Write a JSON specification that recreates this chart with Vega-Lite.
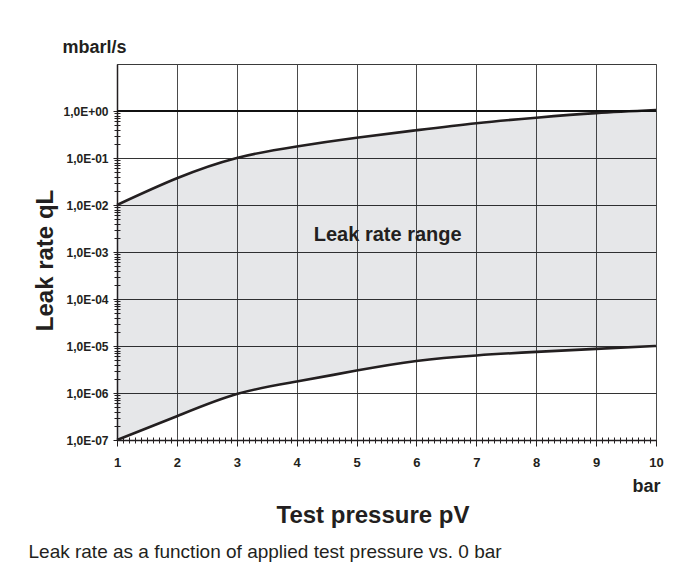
{
  "$schema": "https://vega.github.io/schema/vega-lite/v6.json",
  "width": 539,
  "height": 376,
  "autosize": {"type": "none"},
  "padding": {"left": 117, "top": 64, "right": 32, "bottom": 130},
  "background": "white",
  "config": {
    "view": {"stroke": "#3a3a3a", "strokeWidth": 1},
    "axis": {
      "labelFont": "Liberation Sans",
      "titleFont": "Liberation Sans",
      "labelColor": "#231f20",
      "titleColor": "#231f20",
      "tickColor": "#231f20",
      "domainColor": "#231f20",
      "labelFlush": false,
      "labelOverlap": false
    },
    "text": {"font": "Liberation Sans"}
  },
  "data": {
    "values": [
      {"p": 1, "lo": 1e-7, "hi": 0.01},
      {"p": 2, "lo": 3.2e-7, "hi": 0.037},
      {"p": 3, "lo": 9.5e-7, "hi": 0.1},
      {"p": 4, "lo": 1.75e-6, "hi": 0.176},
      {"p": 5, "lo": 3.0e-6, "hi": 0.269},
      {"p": 6, "lo": 4.8e-6, "hi": 0.39},
      {"p": 7, "lo": 6.3e-6, "hi": 0.55},
      {"p": 8, "lo": 7.5e-6, "hi": 0.72},
      {"p": 9, "lo": 8.7e-6, "hi": 0.9},
      {"p": 10, "lo": 1e-5, "hi": 1.05}
    ]
  },
  "resolve": {"axis": {"x": "independent", "y": "independent"}},
  "layer": [
    {
      "mark": {"type": "area", "fill": "rgb(5,15,35)", "fillOpacity": 0.1, "interpolate": "natural"},
      "encoding": {
        "x": {
          "field": "p", "type": "quantitative",
          "scale": {"domain": [1, 10], "nice": false, "zero": false},
          "axis": {
            "orient": "bottom",
            "values": [1, 2, 3, 4, 5, 6, 7, 8, 9, 10],
            "grid": true, "gridColor": "#4a4a4a", "gridWidth": 1,
            "labelFontSize": 13, "labelFontWeight": "bold", "labelPadding": 10,
            "tickSize": 6, "tickWidth": 1, "domainWidth": 1.5,
            "title": "Test pressure pV", "titleFontSize": 24, "titleFontWeight": "bold",
            "titleX": 255.5, "titleY": 82, "titleAlign": "center", "titleBaseline": "alphabetic"
          }
        },
        "y": {
          "field": "lo", "type": "quantitative",
          "scale": {"type": "log", "domain": [1e-7, 10], "nice": false},
          "axis": {
            "orient": "left",
            "values": [1e-7, 1e-6, 1e-5, 1e-4, 1e-3, 1e-2, 1e-1, 1],
            "grid": true, "gridColor": "#333333", "gridWidth": 1,
            "labelExpr": "'1,0E' + (round(log(datum.value)/LN10) < 0 ? '-' : '+') + pad(toString(abs(round(log(datum.value)/LN10))), 2, '0', 'left')",
            "labelFontSize": 12, "labelFontWeight": "bold", "labelPadding": 5,
            "tickSize": 4, "domainWidth": 1.5,
            "title": "Leak rate qL", "titleFontSize": 24, "titleFontWeight": "bold",
            "titleAngle": 270, "titleX": -65, "titleY": 196, "titleAlign": "center", "titleBaseline": "alphabetic"
          }
        },
        "y2": {"field": "hi"}
      }
    },
    {
      "mark": {"type": "line", "stroke": "#231f20", "strokeWidth": 2.6, "interpolate": "natural"},
      "encoding": {
        "x": {
          "field": "p", "type": "quantitative",
          "scale": {"domain": [1, 10], "nice": false, "zero": false},
          "axis": {
            "orient": "bottom",
            "values": [1.1,1.2,1.3,1.4,1.5,1.6,1.7,1.8,1.9,2.1,2.2,2.3,2.4,2.5,2.6,2.7,2.8,2.9,3.1,3.2,3.3,3.4,3.5,3.6,3.7,3.8,3.9,4.1,4.2,4.3,4.4,4.5,4.6,4.7,4.8,4.9,5.1,5.2,5.3,5.4,5.5,5.6,5.7,5.8,5.9,6.1,6.2,6.3,6.4,6.5,6.6,6.7,6.8,6.9,7.1,7.2,7.3,7.4,7.5,7.6,7.7,7.8,7.9,8.1,8.2,8.3,8.4,8.5,8.6,8.7,8.8,8.9,9.1,9.2,9.3,9.4,9.5,9.6,9.7,9.8,9.9],
            "labels": false, "grid": false, "domain": false,
            "tickSize": 6, "tickWidth": 1, "offset": -3, "title": null
          }
        },
        "y": {
          "field": "hi", "type": "quantitative",
          "scale": {"type": "log", "domain": [1e-7, 10], "nice": false},
          "axis": {
            "orient": "left",
            "values": [2e-7,3e-7,4e-7,5e-7,6e-7,7e-7,8e-7,9e-7,2e-6,3e-6,4e-6,5e-6,6e-6,7e-6,8e-6,9e-6,2e-5,3e-5,4e-5,5e-5,6e-5,7e-5,8e-5,9e-5,2e-4,3e-4,4e-4,5e-4,6e-4,7e-4,8e-4,9e-4,0.002,0.003,0.004,0.005,0.006,0.007,0.008,0.009,0.02,0.03,0.04,0.05,0.06,0.07,0.08,0.09,0.2,0.3,0.4,0.5,0.6,0.7,0.8,0.9],
            "labels": false, "grid": false, "domain": false,
            "tickSize": 6, "tickWidth": 1, "offset": -3, "title": null
          }
        }
      }
    },
    {
      "mark": {"type": "line", "stroke": "#231f20", "strokeWidth": 2.6, "interpolate": "natural"},
      "encoding": {
        "x": {
          "field": "p", "type": "quantitative",
          "scale": {"domain": [1, 10], "nice": false, "zero": false},
          "axis": {
            "orient": "bottom",
            "labels": false, "ticks": false, "domain": false, "grid": false,
            "title": "bar", "titleFontSize": 18, "titleFontWeight": "bold",
            "titleX": 543, "titleY": 51, "titleAlign": "right", "titleBaseline": "alphabetic"
          }
        },
        "y": {
          "field": "lo", "type": "quantitative",
          "scale": {"type": "log", "domain": [1e-7, 10], "nice": false},
          "axis": {
            "orient": "left",
            "labels": false, "ticks": false, "domain": false, "grid": false,
            "title": "mbarl/s", "titleFontSize": 18, "titleFontWeight": "bold", "titleAngle": 0,
            "titleX": -55, "titleY": -12, "titleAlign": "left", "titleBaseline": "alphabetic"
          }
        }
      }
    },
    {
      "data": {"values": [{"v": 1}]},
      "mark": {"type": "rule", "stroke": "#111111", "strokeWidth": 2},
      "encoding": {
        "y": {
          "field": "v", "type": "quantitative",
          "scale": {"type": "log", "domain": [1e-7, 10], "nice": false},
          "axis": null
        }
      }
    },
    {
      "data": {"values": [{"label": "Leak rate range"}]},
      "mark": {"type": "text", "fontSize": 20, "fontWeight": "bold", "align": "center", "baseline": "alphabetic", "color": "#231f20"},
      "encoding": {
        "text": {"field": "label"},
        "x": {
          "datum": 5.52, "type": "quantitative",
          "scale": {"domain": [1, 10], "nice": false, "zero": false},
          "axis": {
            "orient": "bottom",
            "labels": false, "ticks": false, "domain": false, "grid": false,
            "title": "Leak rate as a function of applied test pressure vs. 0 bar",
            "titleFontSize": 19, "titleFontWeight": "normal",
            "titleX": -89, "titleY": 117, "titleAlign": "left", "titleBaseline": "alphabetic"
          }
        },
        "y": {
          "datum": 0.00174, "type": "quantitative",
          "scale": {"type": "log", "domain": [1e-7, 10], "nice": false},
          "axis": null
        }
      }
    }
  ]
}
